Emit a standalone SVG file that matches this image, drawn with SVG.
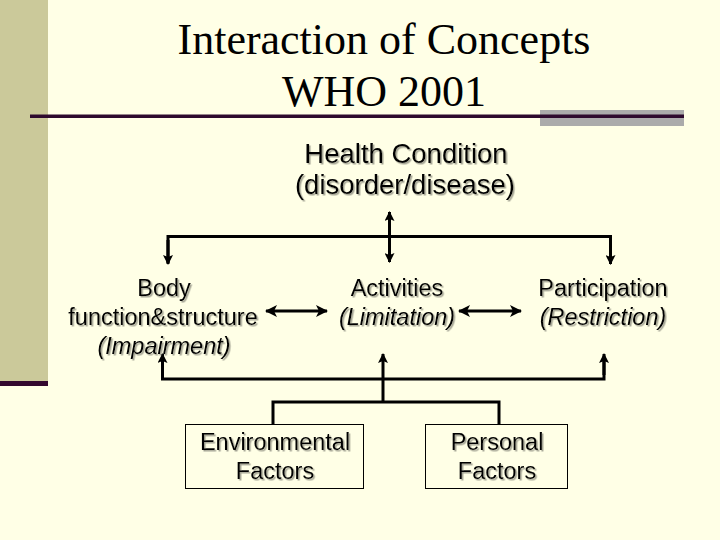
<svg xmlns="http://www.w3.org/2000/svg" width="720" height="540" viewBox="0 0 720 540">
<defs>
<style>
.title{font-family:"Liberation Serif","Times New Roman",serif;font-size:44px;fill:#000;text-anchor:middle}
.lbl{font-family:"Liberation Sans",Arial,sans-serif;font-size:23.5px;fill:#000;text-anchor:middle}
.big{font-size:27.5px}
.it{font-style:italic}
.wire{fill:none;stroke:#000;stroke-width:3}
.box{fill:none;stroke:#000;stroke-width:1}
</style>
<marker id="ah" viewBox="0 0 10 10" refX="9" refY="5" markerWidth="10" markerHeight="10" markerUnits="userSpaceOnUse" orient="auto-start-reverse">
<path d="M0,0 L10,5 L0,10 L2,5 Z" fill="#000"/>
</marker>
<marker id="dh" viewBox="0 0 12 12" refX="11" refY="6" markerWidth="12" markerHeight="12" markerUnits="userSpaceOnUse" orient="auto-start-reverse">
<path d="M0,0 L12,6 L0,12 L3,6 Z" fill="#000"/>
</marker>
<filter id="sh" x="-10%" y="-20%" width="120%" height="150%">
<feDropShadow dx="1.5" dy="1.5" stdDeviation="0.4" flood-color="#9a9a8a" flood-opacity="0.9"/>
</filter>
</defs>
<rect width="720" height="540" fill="#FFFFE6"/>
<rect x="0" y="0" width="48" height="382" fill="#CBC99A"/>
<rect x="0" y="381" width="48" height="5" fill="#33082E"/>
<rect x="540" y="110" width="144" height="16" fill="#ABABAB"/>
<rect x="30" y="114.5" width="654" height="3.5" fill="#2E0A2E"/>
<g id="title">
<text class="title" x="384" y="54">Interaction of Concepts</text>
<text class="title" x="384" y="106">WHO 2001</text>
</g>
<g id="connectors">
<line class="wire" x1="389.5" y1="212" x2="389.5" y2="262" marker-start="url(#ah)" marker-end="url(#ah)"/>
<path class="wire" d="M168,263 V236.5 H610.5 V263" />
<line class="wire" x1="168" y1="240" x2="168" y2="264" marker-end="url(#ah)"/>
<line class="wire" x1="610.5" y1="240" x2="610.5" y2="264" marker-end="url(#ah)"/>
<line class="wire" x1="266" y1="311" x2="327" y2="311" marker-start="url(#dh)" marker-end="url(#dh)"/>
<line class="wire" x1="459" y1="311" x2="521" y2="311" marker-start="url(#dh)" marker-end="url(#dh)"/>
<path class="wire" d="M162.5,360 V379 H604 V360"/>
<line class="wire" x1="162.5" y1="375" x2="162.5" y2="354" marker-end="url(#ah)"/>
<line class="wire" x1="604" y1="375" x2="604" y2="354" marker-end="url(#ah)"/>
<line class="wire" x1="383" y1="402" x2="383" y2="354" marker-end="url(#ah)"/>
<path class="wire" d="M273,424 V402 H499 V424"/>
</g>
<g id="health" filter="url(#sh)">
<text class="lbl big" x="406" y="163">Health Condition</text>
<text class="lbl big" x="405" y="194">(disorder/disease)</text>
</g>
<g id="body" filter="url(#sh)">
<text class="lbl" x="164" y="296">Body</text>
<text class="lbl" x="163" y="325">function&amp;structure</text>
<text class="lbl it" x="164" y="354">(Impairment)</text>
</g>
<g id="activities" filter="url(#sh)">
<text class="lbl" x="397" y="296">Activities</text>
<text class="lbl it" x="397" y="325">(Limitation)</text>
</g>
<g id="participation" filter="url(#sh)">
<text class="lbl" x="603" y="296">Participation</text>
<text class="lbl it" x="603" y="325">(Restriction)</text>
</g>
<g id="environmental">
<rect class="box" x="185.5" y="424.5" width="178" height="64"/>
<g filter="url(#sh)">
<text class="lbl" x="275" y="450">Environmental</text>
<text class="lbl" x="275" y="479">Factors</text>
</g>
</g>
<g id="personal">
<rect class="box" x="425.5" y="424.5" width="142" height="64"/>
<g filter="url(#sh)">
<text class="lbl" x="497" y="450">Personal</text>
<text class="lbl" x="497" y="479">Factors</text>
</g>
</g>
</svg>
